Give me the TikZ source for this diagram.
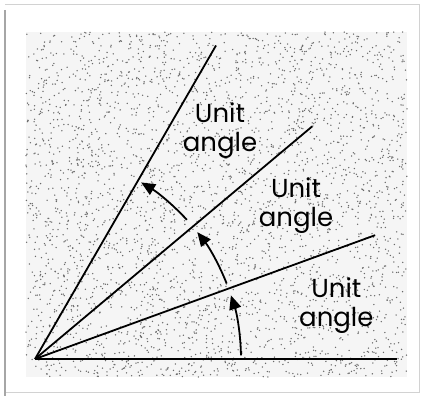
\documentclass[tikz,border=0pt]{standalone}
\usepackage{fontspec}
\setmainfont{Poppins}
\usetikzlibrary{arrows.meta}
\definecolor{stipple}{RGB}{105,105,105}
\tikzset{
  ray/.style={
    line width=0.9pt,
    draw=black
  },
  unit arc/.style={
    -{Triangle[length=7pt,width=6pt]},
    line width=0.9pt
  },
  angle label/.style={
    align=center,
    inner sep=0pt,
    font=\fontsize{13}{14.5}\selectfont
  }
}

\begin{document}
\begin{tikzpicture}[x=0.5pt,y=0.5pt]
  \useasboundingbox (0,0) rectangle (422,396);

  % frame
  \draw[gray!35, line width=0.5pt] (5,391) -- (419,391) -- (419,4) -- (5,4);
  \draw[gray!70, line width=1pt] (5,386) -- (5,0);

  % stippled paper
  \fill[gray!8] (26,19) rectangle (407,364);
  \pgfmathsetseed{7}
  \foreach \k in {1,...,3400}
    \fill[stipple] ({26+381*rnd},{19+345*rnd}) circle (0.38pt);

  % rays
  \coordinate (O) at (35,37);
  \foreach \ang/\name in {0/r0, 20/r1, 40/r2, 60/r3}
    \path (O) ++(\ang:362) coordinate (\name);
  \foreach \name in {r0, r1, r2, r3}
    \draw[ray] (O) -- (\name);

  % unit arcs
  \path (O) ++(1:206) coordinate (a1);
  \path (O) ++(21.5:206) coordinate (a2);
  \path (O) ++(42.5:206) coordinate (a3);
  \draw[unit arc] (a1) arc[start angle=1, end angle=18, radius=206];
  \draw[unit arc] (a2) arc[start angle=21.5, end angle=38, radius=206];
  \draw[unit arc] (a3) arc[start angle=42.5, end angle=59, radius=206];

  % labels
  \path (O) ++(10:306) node[angle label] (lab1) {Unit\\angle};
  \path (O) ++(30.5:303) node[angle label] (lab2) {Unit\\angle};
  \path (O) ++(51:294) node[angle label] (lab3) {Unit\\angle};

\end{tikzpicture}
\end{document}
